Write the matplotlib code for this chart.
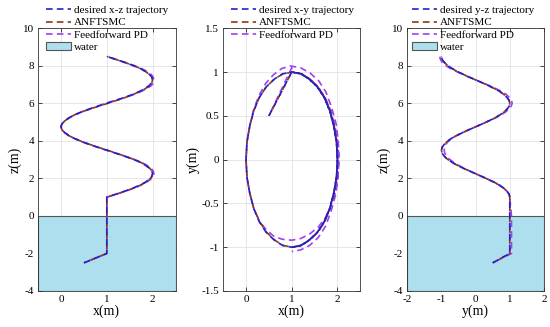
import matplotlib.pyplot as plt
from matplotlib.patches import Patch
from matplotlib.lines import Line2D

plt.rcParams['font.family'] = ['Liberation Serif', 'DejaVu Serif']
plt.rcParams['axes.unicode_minus'] = False

# desired trajectory: lead-in from the start point, vertical rise, then the helix
des_x = [0.5, 1.0, 1.0, 1.0,
         1.20, 1.38, 1.56, 1.71, 1.83, 1.92, 1.98, 2.0, 1.98, 1.92, 1.83, 1.71, 1.56, 1.38, 1.20, 1.0,
         0.80, 0.62, 0.44, 0.29, 0.17, 0.08, 0.02, 0.0, 0.02, 0.08, 0.17, 0.29, 0.44, 0.62, 0.80, 1.0,
         1.20, 1.38, 1.56, 1.71, 1.83, 1.92, 1.98, 2.0, 1.98, 1.92, 1.83, 1.71, 1.56, 1.38, 1.20, 1.0]
des_y = [0.5, 1.0, 1.0, 1.0,
         0.98, 0.92, 0.83, 0.71, 0.56, 0.38, 0.20, 0.0, -0.20, -0.38, -0.56, -0.71, -0.83, -0.92, -0.98, -1.0,
         -0.98, -0.92, -0.83, -0.71, -0.56, -0.38, -0.20, 0.0, 0.20, 0.38, 0.56, 0.71, 0.83, 0.92, 0.98, 1.0,
         0.98, 0.92, 0.83, 0.71, 0.56, 0.38, 0.20, 0.0, -0.20, -0.38, -0.56, -0.71, -0.83, -0.92, -0.98, -1.0]
des_z = [-2.5, -2.0, 0.0, 1.0,
         1.16, 1.31, 1.47, 1.63, 1.78, 1.94, 2.09, 2.25, 2.41, 2.56, 2.72, 2.88, 3.03, 3.19, 3.34, 3.5,
         3.66, 3.81, 3.97, 4.13, 4.28, 4.44, 4.59, 4.75, 4.91, 5.06, 5.22, 5.38, 5.53, 5.69, 5.84, 6.0,
         6.16, 6.31, 6.47, 6.63, 6.78, 6.94, 7.09, 7.25, 7.41, 7.56, 7.72, 7.88, 8.03, 8.19, 8.34, 8.5]

# ANFTSMC tracks almost exactly
anf_x = [0.5, 1.0, 1.0, 1.0,
         1.20, 1.39, 1.57, 1.72, 1.84, 1.93, 1.98, 2.0, 1.98, 1.93, 1.84, 1.72, 1.57, 1.39, 1.21, 1.02,
         0.81, 0.63, 0.45, 0.30, 0.17, 0.08, 0.02, 0.0, 0.02, 0.08, 0.17, 0.29, 0.44, 0.62, 0.81, 1.02,
         1.22, 1.40, 1.57, 1.72, 1.84, 1.93, 1.98, 2.0, 1.98, 1.92, 1.83, 1.71, 1.56, 1.38, 1.20, 1.0]
anf_y = list(des_y)
anf_z = list(des_z)

# feedforward PD deviates a bit in the x-y plane
pd_x = [0.5, 1.0, 1.0, 1.0,
        1.21, 1.40, 1.58, 1.74, 1.86, 1.95, 2.01, 2.03, 2.01, 1.96, 1.86, 1.74, 1.58, 1.39, 1.20, 1.0,
        0.80, 0.62, 0.44, 0.29, 0.17, 0.08, 0.02, 0.0, 0.02, 0.08, 0.17, 0.29, 0.43, 0.60, 0.78, 0.97,
        1.19, 1.40, 1.59, 1.75, 1.87, 1.97, 2.02, 2.03, 2.01, 1.96, 1.86, 1.74, 1.58, 1.39, 1.20, 1.0]
pd_y = [0.5, 1.05, 1.05, 1.0,
        0.98, 0.92, 0.83, 0.70, 0.55, 0.37, 0.19, 0.0, -0.19, -0.36, -0.52, -0.66, -0.77, -0.85, -0.90, -0.92,
        -0.91, -0.88, -0.80, -0.70, -0.56, -0.38, -0.20, 0.0, 0.20, 0.39, 0.58, 0.74, 0.87, 0.97, 1.04, 1.07,
        1.05, 0.99, 0.90, 0.77, 0.60, 0.41, 0.21, 0.0, -0.21, -0.40, -0.59, -0.76, -0.89, -0.98, -1.03, -1.05]
pd_z = list(des_z)

c_des = '#2222C8'
c_anf = '#8B3A14'
c_pd = '#A040F0'
c_water = '#ADDFEE'

fig = plt.figure(figsize=(5.5, 3.27), dpi=100)
ax1 = fig.add_axes([0.0693, 0.1101, 0.2498, 0.8034])
ax2 = fig.add_axes([0.4058, 0.1101, 0.2493, 0.8034])
ax3 = fig.add_axes([0.7405, 0.1101, 0.2485, 0.8034])

ls_des = dict(ls=(0, (4, 2.5)), lw=1.2)
ls_anf = dict(ls=(2, (4, 2.5)), lw=1.2)
ls_pd = dict(ls=(4, (4, 2.5)), lw=1.2)

def style(ax):
    ax.grid(True, color='#E3E3E3', lw=0.6)
    ax.set_axisbelow(True)
    ax.tick_params(direction='in', length=3, labelsize=8, width=0.5, top=True, right=True, pad=3)
    for s in ax.spines.values():
        s.set_linewidth(0.6)
        s.set_color('#333333')

def curves(ax, a, b, c):
    ax.plot(*a, color=c_pd, zorder=3, **ls_pd)
    ax.plot(*b, color=c_anf, zorder=4, **ls_anf)
    ax.plot(*c, color=c_des, zorder=5, **ls_des)

# x-z
ax1.axhspan(-4, 0, facecolor=c_water, edgecolor='#555555', lw=0.8, zorder=1)
curves(ax1, (pd_x, pd_z), (anf_x, anf_z), (des_x, des_z))
ax1.set_xlim(-0.5, 2.5)
ax1.set_ylim(-4, 10)
ax1.set_xticks([0, 1, 2])
ax1.set_yticks(range(-4, 11, 2))
ax1.set_xlabel('x(m)', fontsize=10, labelpad=0)
ax1.set_ylabel('z(m)', fontsize=10, labelpad=1)
style(ax1)

# x-y
curves(ax2, (pd_x, pd_y), (anf_x, anf_y), (des_x, des_y))
ax2.set_xlim(-0.5, 2.5)
ax2.set_ylim(-1.5, 1.5)
ax2.set_xticks([0, 1, 2])
ax2.set_yticks([-1.5, -1, -0.5, 0, 0.5, 1, 1.5])
ax2.set_yticklabels(['-1.5', '-1', '-0.5', '0', '0.5', '1', '1.5'])
ax2.set_xlabel('x(m)', fontsize=10, labelpad=0)
ax2.set_ylabel('y(m)', fontsize=10, labelpad=1)
style(ax2)

# y-z
ax3.axhspan(-4, 0, facecolor=c_water, edgecolor='#555555', lw=0.8, zorder=1)
curves(ax3, (pd_y, pd_z), (anf_y, anf_z), (des_y, des_z))
ax3.set_xlim(-2, 2)
ax3.set_ylim(-4, 10)
ax3.set_xticks([-2, -1, 0, 1, 2])
ax3.set_yticks(range(-4, 11, 2))
ax3.set_xlabel('y(m)', fontsize=10, labelpad=0)
ax3.set_ylabel('z(m)', fontsize=10, labelpad=1)
style(ax3)

def legend(first, water, x0):
    h = [Line2D([], [], color=c_des, **ls_des),
         Line2D([], [], color=c_anf, **ls_des),
         Line2D([], [], color=c_pd, **ls_des)]
    lab = [first, 'ANFTSMC', 'Feedforward PD']
    if water:
        h.append(Patch(facecolor=c_water, edgecolor='#555555', lw=0.8))
        lab.append('water')
    fig.legend(h, lab, loc='upper left', bbox_to_anchor=(x0, 0.99), frameon=False,
               fontsize=8, handlelength=2.2, handletextpad=0.3, labelspacing=0.22,
               borderaxespad=0.1, borderpad=0.1)

legend('desired x-z trajectory', True, 44 / 550)
legend('desired x-y trajectory', False, 229 / 550)
legend('desired y-z trajectory', True, 410 / 550)

fig.savefig('out.png', dpi=100)
